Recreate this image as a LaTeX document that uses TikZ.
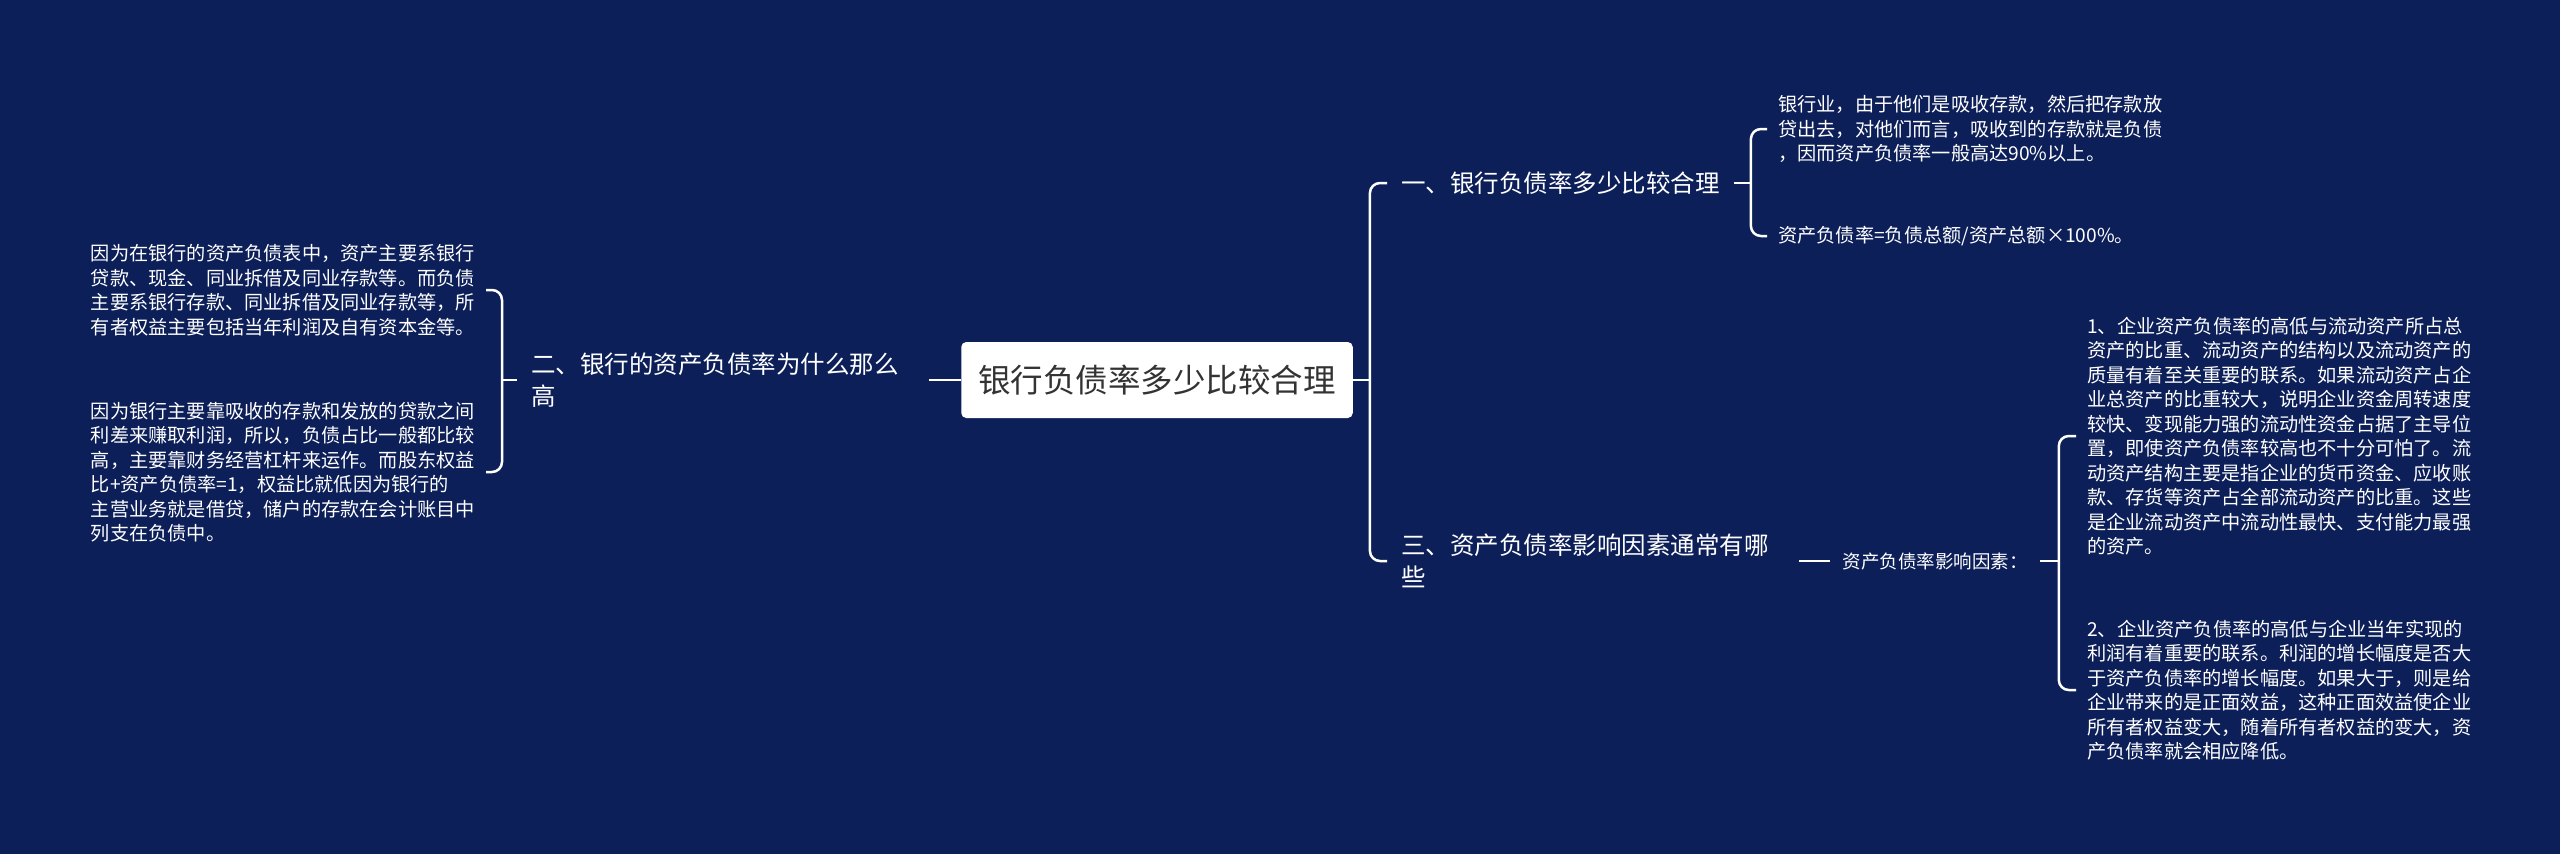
\documentclass[tikz,border=0pt]{standalone}
\usepackage{fontspec}
\setmainfont{Noto Sans CJK SC}
\usetikzlibrary{positioning}
\definecolor{bgnavy}{RGB}{12,31,89}
\definecolor{rootgray}{RGB}{51,51,51}

\begin{document}
\begin{tikzpicture}[x=1pt,y=-1pt,
root/.style={fill=white,rounded corners=5pt,text=rootgray,font=\fontsize{32.5}{38}\selectfont,inner xsep=17pt,minimum height=76pt},
branch/.style={text=white,align=left,inner xsep=14pt,font=\fontsize{24.5}{32}\selectfont},
leaf/.style={text=white,align=left,inner xsep=11pt,font=\fontsize{19.2}{24.5}\selectfont},
factor/.style={leaf,inner xsep=12pt,font=\fontsize{18.5}{24}\selectfont},
link/.style={draw=white,line width=2.5pt},
curl/.style={link,rounded corners=10pt}]
\fill[bgnavy] (0,0) rectangle (2560,854);

\node[root] (root) at (1157,380) {银行负债率多少比较合理};
\coordinate[right=17pt of root] (rj);

\node[branch,anchor=west] (b1) at (1387,183) {一、银行负债率多少比较合理};
\node[branch,anchor=west,text width=384pt] (b2) at (517,380) {二、银行的资产负债率为什么那么\\高};
\node[branch,anchor=west,text width=384pt] (b3) at (1387,561) {三、资产负债率影响因素通常有哪\\些};
\coordinate[right=17pt of b1] (b1j);
\coordinate[left=15pt of b2] (b2j);
\node[factor,right=31pt of b3] (fac) {资产负债率影响因素：};
\coordinate[right=19pt of fac] (facj);

\node[leaf,anchor=east] (l1) at (486,290) {因为在银行的资产负债表中，资产主要系银行\\贷款、现金、同业拆借及同业存款等。而负债\\主要系银行存款、同业拆借及同业存款等，所\\有者权益主要包括当年利润及自有资本金等。};
\node[leaf,anchor=east] (l2) at (486,472) {因为银行主要靠吸收的存款和发放的贷款之间\\利差来赚取利润，所以，负债占比一般都比较\\高，主要靠财务经营杠杆来运作。而股东权益\\比+资产负债率=1，权益比就低因为银行的\\主营业务就是借贷，储户的存款在会计账目中\\列支在负债中。};
\node[leaf,anchor=west] (l1a) at (1767,129) {银行业，由于他们是吸收存款，然后把存款放\\贷出去，对他们而言，吸收到的存款就是负债\\，因而资产负债率一般高达90\%以上。};
\node[leaf,anchor=west] (l1b) at (1767,236) {资产负债率=负债总额/资产总额×100\%。};
\node[leaf,anchor=west] (l3a) at (2076,436) {1、企业资产负债率的高低与流动资产所占总\\资产的比重、流动资产的结构以及流动资产的\\质量有着至关重要的联系。如果流动资产占企\\业总资产的比重较大，说明企业资金周转速度\\较快、变现能力强的流动性资金占据了主导位\\置，即使资产负债率较高也不十分可怕了。流\\动资产结构主要是指企业的货币资金、应收账\\款、存货等资产占全部流动资产的比重。这些\\是企业流动资产中流动性最快、支付能力最强\\的资产。};
\node[leaf,anchor=west] (l3b) at (2076,690) {2、企业资产负债率的高低与企业当年实现的\\利润有着重要的联系。利润的增长幅度是否大\\于资产负债率的增长幅度。如果大于，则是给\\企业带来的是正面效益，这种正面效益使企业\\所有者权益变大，随着所有者权益的变大，资\\产负债率就会相应降低。};

\draw[link] (root.east) -- (rj);
\draw[curl] (rj) |- (b1.west);
\draw[curl] (rj) |- (b3.west);
\draw[link] (root.west) -- (b2.east);
\draw[link] (b2.west) -- (b2j);
\draw[curl] (b2j) |- (l1.east);
\draw[curl] (b2j) |- (l2.east);
\draw[link] (b1.east) -- (b1j);
\draw[curl] (b1j) |- (l1a.west);
\draw[curl] (b1j) |- (l1b.west);
\draw[link] (b3.east) -- (fac.west);
\draw[link] (fac.east) -- (facj);
\draw[curl] (facj) |- (l3a.west);
\draw[curl] (facj) |- (l3b.west);
\end{tikzpicture}
\end{document}
